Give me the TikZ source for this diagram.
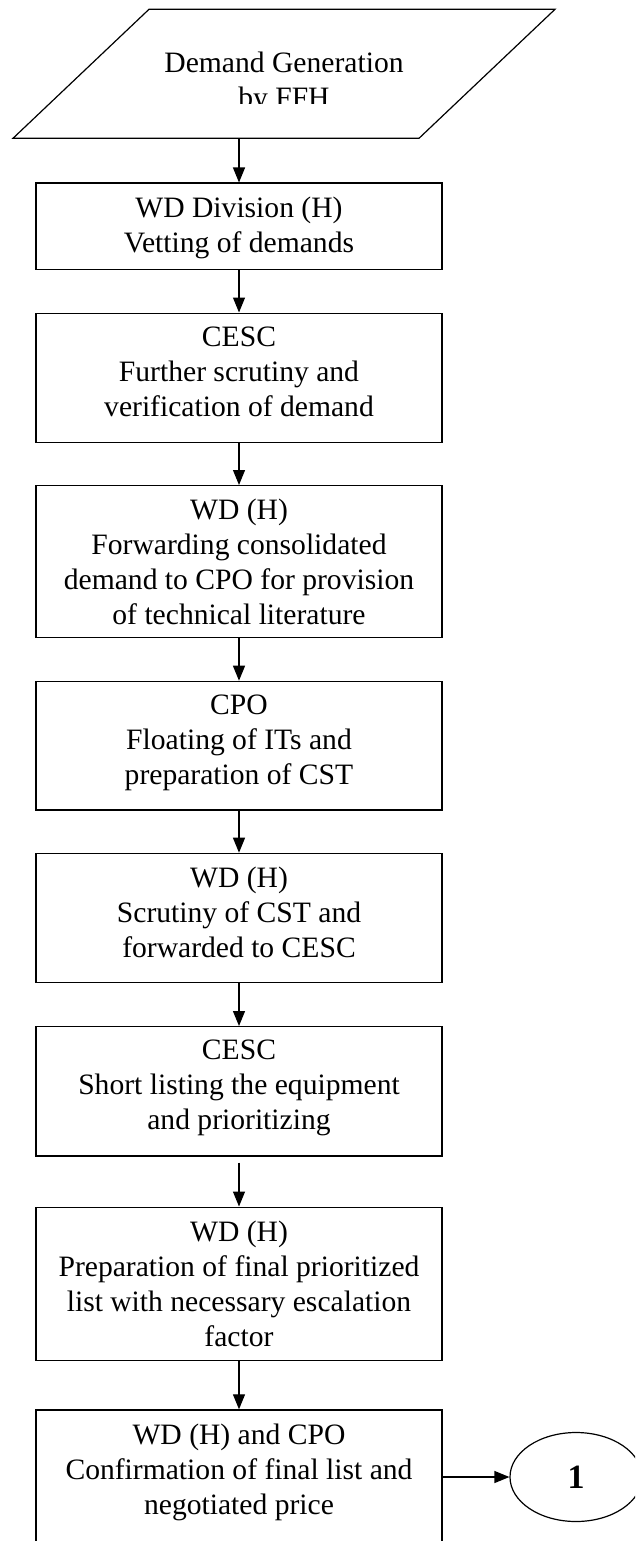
\documentclass[tikz,border=0pt]{standalone}
\usepackage{fontspec}
\setmainfont{Liberation Serif}
\usetikzlibrary{arrows.meta,shapes.geometric}

\begin{document}
\begin{tikzpicture}[x=1pt,y=-1pt,
  stepbox/.style={draw,line width=1.2pt,rectangle,inner sep=0pt,minimum width=406pt,anchor=north},
  boxtext/.style={anchor=north,align=center,inner sep=0pt,font=\fontsize{29.6}{35}\selectfont},
  flow/.style={-{Triangle[width=12pt,length=15pt]},line width=1.2pt}]
\useasboundingbox (0,0) rectangle (635,1541);
\clip (0,0) rectangle (635,1541);

% input: demand generation
\draw[line width=1.2pt] (149,9.3) -- (555,9.3) -- (419,138.3) -- (13,138.3) -- cycle;
\coordinate (src) at (239,138.3);
\begin{scope}
  \clip (13,9.3) rectangle (555,104);
  \node[boxtext] (srctext) at (284,52) {Demand Generation\\by FFH};
\end{scope}

% process steps
\node[stepbox,minimum height=86.2pt]  (b1) at (239,182.5) {};
\node[stepbox,minimum height=129.2pt] (b2) at (239,312.5) {};
\node[stepbox,minimum height=151.7pt] (b3) at (239,485) {};
\node[stepbox,minimum height=128.6pt] (b4) at (239,680.7) {};
\node[stepbox,minimum height=129.3pt] (b5) at (239,852.7) {};
\node[stepbox,minimum height=129.3pt] (b6) at (239,1026) {};
\node[stepbox,minimum height=153.5pt] (b7) at (239,1206.5) {};
\node[stepbox,minimum height=200pt]   (b8) at (239,1409.3) {};

\node[boxtext] (t1) at (239,196.5) {WD Division (H)\\Vetting of demands};
\node[boxtext] (t2) at (239,326.5) {CESC\\Further scrutiny and\\verification of demand};
\node[boxtext] (t3) at (239,499) {WD (H)\\Forwarding consolidated\\demand to CPO for provision\\of technical literature};
\node[boxtext] (t4) at (239,694.7) {CPO\\Floating of ITs and\\preparation of CST};
\node[boxtext] (t5) at (239,866.7) {WD (H)\\Scrutiny of CST and\\forwarded to CESC};
\node[boxtext] (t6) at (239,1040) {CESC\\Short listing the equipment\\and prioritizing};
\node[boxtext] (t7) at (239,1220.5) {WD (H)\\Preparation of final prioritized\\list with necessary escalation\\factor};
\node[boxtext] (t8) at (239,1423.3) {WD (H) and CPO\\Confirmation of final list and\\negotiated price};

% connector
\node[draw,ellipse,line width=1.2pt,minimum width=132pt,minimum height=89pt,inner sep=0pt,
      font=\fontsize{34}{40}\selectfont\bfseries] (one) at (576,1477) {1};

% arrows
\draw[flow] (src) -- (b1.north);
\draw[flow] (b1.south) -- (b2.north);
\draw[flow] (b2.south) -- (b3.north);
\draw[flow] (b3.south) -- (b4.north);
\draw[flow] (b4.south) -- (b5.north);
\draw[flow] (b5.south) -- (b6.north);
\draw[flow] ([yshift=-6pt]b6.south) -- (b7.north);
\draw[flow] (b7.south) -- (b8.north);
\draw[flow] (b8.east |- one) -- (one.west);
\end{tikzpicture}
\end{document}
